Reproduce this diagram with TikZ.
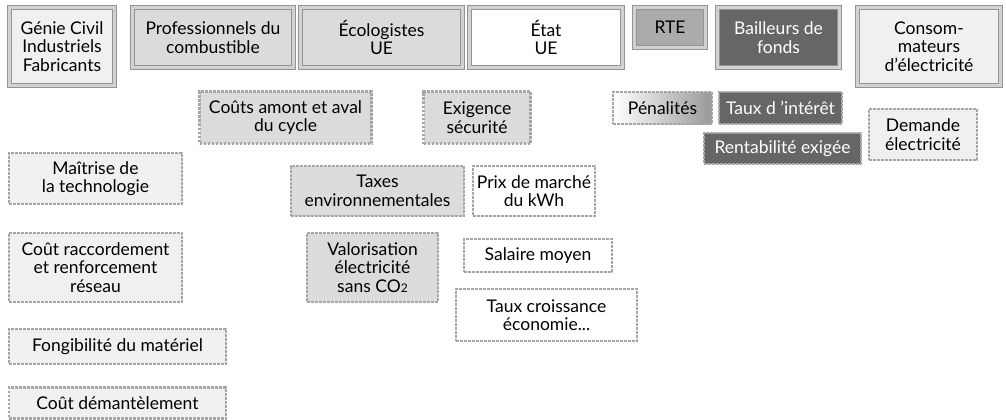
\documentclass[tikz,border=0pt]{standalone}
\usepackage{fontspec}
\setmainfont{Lato}
\usetikzlibrary{positioning}
\tikzset{
    box/.style = {align=center, inner sep=1pt, font=\fontsize{17.5}{18.5}\selectfont, text=black},
    actor/.style = {box, draw=gray!85, line width=1.2pt, double=gray!35, double distance=2.6pt},
    factor/.style = {box, draw=gray!70, line width=2.4pt, dash pattern=on 2.6pt off 1.4pt},
    light/.style = {fill=black!6},
    mid/.style = {fill=black!14},
    dark/.style = {fill=black!60, text=white},
}

\begin{document}
\begin{tikzpicture}[x=1pt, y=-1pt]
            \useasboundingbox (0, 0) rectangle (1006, 420);

            \node[actor, light, minimum width=105, minimum height=78] (genie) at (62, 46.5) {Génie Civil\\Industriels\\Fabricants};
            \node[actor, mid, minimum width=161, minimum height=60] (combustible) at (213, 37.5) {Professionnels du\\combustible};
            \node[actor, mid, minimum width=162, minimum height=60] (ecolo) at (381.5, 37.5) {Écologistes\\UE};
            \node[actor, fill=white, minimum width=153, minimum height=60] (etat) at (546, 37.5) {État\\UE};
            \node[actor, fill=black!33, minimum width=71, minimum height=40] (rte) at (670, 27.5) {RTE};
            \node[actor, dark, minimum width=122, minimum height=60] (bailleurs) at (778.5, 37.5) {Bailleurs de\\fonds};
            \node[actor, light, minimum width=143, minimum height=78] (conso) at (929, 46.5) {Consom-\\mateurs\\d'électricité};

            \node[factor, mid, minimum width=172, minimum height=52] (cycle) at (285.5, 117.5) {Coûts amont et aval\\du cycle};
            \node[factor, mid, minimum width=107, minimum height=52] (securite) at (477, 117.5) {Exigence\\sécurité};
            \node[factor, left color=white, right color=black!40, minimum width=99, minimum height=32] (penal) at (662.5, 108) {Pénalités};
            \node[factor, dark, minimum width=123, minimum height=32] (interet) at (780.5, 108) {Taux d 'intérêt};
            \node[factor, dark, minimum width=157, minimum height=31] (rentab) at (782.5, 148.5) {Rentabilité exigée};
            \node[factor, light, minimum width=108, minimum height=51] (demande) at (923, 134.5) {Demande\\électricité};

            \node[factor, light, minimum width=173, minimum height=51] (maitrise) at (95.5, 178.5) {Maîtrise de\\la technologie};
            \node[factor, mid, minimum width=173, minimum height=50] (taxes) at (377.5, 191) {Taxes\\environnementales};
            \node[factor, fill=white, minimum width=122, minimum height=50] (prix) at (534, 191) {Prix de marché\\du kWh};

            \node[factor, light, minimum width=173, minimum height=69] (raccord) at (95.5, 267.5) {Coût raccordement\\et renforcement\\réseau};
            \node[factor, mid, minimum width=131, minimum height=69] (valor) at (372.5, 267.5) {Valorisation\\électricité\\sans CO{\fontsize{12}{12}\selectfont 2}};
            \node[factor, fill=white, minimum width=148, minimum height=33] (salaire) at (538, 255.5) {Salaire moyen};
            \node[factor, fill=white, minimum width=181, minimum height=52] (croissance) at (546.5, 315) {Taux croissance\\économie...};

            \node[factor, light, minimum width=217, minimum height=35] (fongib) at (117.5, 346.5) {Fongibilité du matériel};
            \node[factor, light, minimum width=217, minimum height=31] (demantel) at (117.5, 403) {Coût démantèlement};
        \end{tikzpicture}
\end{document}
